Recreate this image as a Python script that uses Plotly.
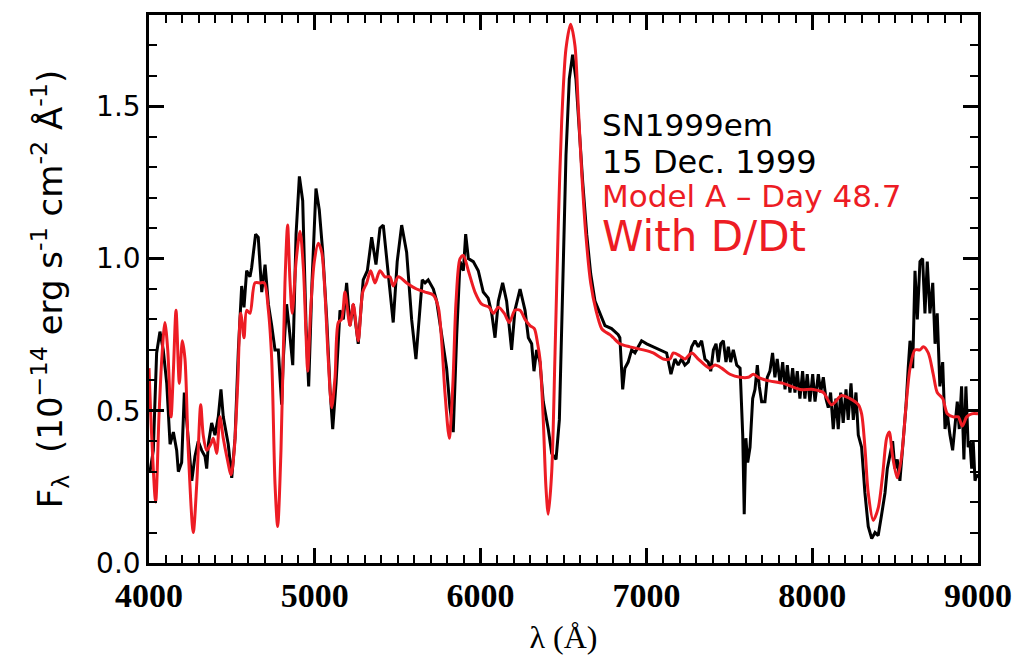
import plotly.graph_objects as go

# Observed spectrum of SN1999em, 15 Dec. 1999 (wavelength in Angstrom, flux in 1e-14 erg/s/cm^2/A)
obs_wave = [4006, 4026, 4046, 4066, 4086, 4107, 4127, 4147, 4167, 4177, 4197, 4213, 4258, 4277,
            4297, 4318, 4338, 4348, 4358, 4378, 4398, 4418, 4434, 4448, 4478, 4499, 4519, 4539,
            4559, 4573, 4589, 4609, 4619, 4643, 4659, 4680, 4700, 4720, 4740, 4760, 4780, 4800,
            4810, 4830, 4846, 4867, 4887, 4907, 4927, 4947, 4963, 4983, 5007, 5027, 5048, 5072,
            5092, 5108, 5128, 5152, 5172, 5192, 5212, 5232, 5262, 5292, 5317, 5343, 5369, 5393,
            5413, 5443, 5473, 5497, 5524, 5554, 5584, 5610, 5624, 5648, 5665, 5684, 5715, 5735,
            5765, 5795, 5815, 5835, 5856, 5876, 5896, 5910, 5926, 5956, 5986, 6016, 6046, 6067,
            6087, 6107, 6133, 6157, 6187, 6207, 6238, 6268, 6288, 6308, 6322, 6338, 6358, 6378,
            6408, 6429, 6455, 6475, 6495, 6515, 6535, 6555, 6575, 6595, 6616, 6640, 6664, 6690,
            6720, 6750, 6790, 6830, 6840, 6857, 6870, 6890, 6911, 6931, 6951, 6971, 7002, 7041,
            7082, 7122, 7148, 7172, 7192, 7212, 7232, 7253, 7273, 7293, 7313, 7333, 7353, 7373,
            7388, 7404, 7420, 7434, 7448, 7464, 7480, 7494, 7508, 7524, 7545, 7565, 7581, 7590,
            7600, 7611, 7625, 7641, 7655, 7669, 7681, 7695, 7715, 7729, 7745, 7761, 7775, 7789,
            7806, 7822, 7836, 7850, 7866, 7882, 7896, 7910, 7926, 7942, 7956, 7970, 7986, 8003,
            8017, 8037, 8051, 8067, 8083, 8097, 8111, 8127, 8143, 8157, 8172, 8187, 8204, 8217,
            8234, 8248, 8264, 8278, 8298, 8318, 8338, 8359, 8379, 8398, 8419, 8439, 8453, 8465,
            8485, 8499, 8513, 8529, 8549, 8565, 8579, 8590, 8606, 8620, 8634, 8650, 8666, 8680,
            8694, 8710, 8727, 8741, 8754, 8770, 8787, 8801, 8815, 8831, 8847, 8861, 8875, 8887,
            8901, 8915, 8927, 8941, 8951, 8962, 8971, 8982, 8992, 9000]
obs_flux = [0.30, 0.37, 0.69, 0.76, 0.70, 0.59, 0.39, 0.43, 0.37, 0.30, 0.33, 0.56, 0.27, 0.35,
            0.40, 0.37, 0.35, 0.31, 0.39, 0.46, 0.42, 0.48, 0.57, 0.48, 0.39, 0.28, 0.41, 0.70,
            0.91, 0.84, 0.96, 0.94, 0.97, 1.08, 1.07, 0.89, 0.98, 0.85, 0.78, 0.70, 0.70, 0.52,
            0.67, 0.85, 0.77, 0.65, 1.08, 1.27, 1.19, 0.78, 0.58, 0.92, 1.23, 1.16, 1.02, 0.80,
            0.57, 0.44, 0.59, 0.83, 0.80, 0.92, 0.78, 0.85, 0.72, 0.93, 0.96, 1.07, 0.98, 1.10,
            1.11, 0.96, 0.79, 0.99, 1.11, 1.02, 0.80, 0.67, 0.77, 0.93, 0.92, 0.93, 0.90, 0.86,
            0.75, 0.64, 0.51, 0.43, 0.75, 0.99, 0.96, 1.08, 1.00, 0.99, 0.96, 0.89, 0.87, 0.82,
            0.74, 0.86, 0.92, 0.86, 0.70, 0.83, 0.90, 0.83, 0.74, 0.72, 0.63, 0.70, 0.66, 0.53,
            0.44, 0.36, 0.34, 0.47, 0.90, 1.34, 1.59, 1.67, 1.59, 1.41, 1.25, 1.08, 0.95, 0.86,
            0.82, 0.78, 0.77, 0.75, 0.74, 0.57, 0.64, 0.66, 0.70, 0.69, 0.71, 0.73, 0.72, 0.71,
            0.70, 0.69, 0.62, 0.67, 0.65, 0.67, 0.65, 0.66, 0.71, 0.73, 0.71, 0.73, 0.67, 0.66,
            0.63, 0.70, 0.72, 0.66, 0.72, 0.73, 0.66, 0.71, 0.66, 0.70, 0.65, 0.64, 0.42, 0.16,
            0.41, 0.33, 0.38, 0.54, 0.57, 0.65, 0.58, 0.53, 0.53, 0.61, 0.63, 0.69, 0.61, 0.67,
            0.59, 0.66, 0.57, 0.65, 0.56, 0.64, 0.56, 0.63, 0.54, 0.63, 0.54, 0.62, 0.53, 0.62,
            0.53, 0.62, 0.56, 0.61, 0.54, 0.51, 0.56, 0.44, 0.54, 0.44, 0.56, 0.46, 0.57, 0.47,
            0.59, 0.47, 0.56, 0.42, 0.38, 0.23, 0.12, 0.08, 0.10, 0.09, 0.16, 0.23, 0.31, 0.34,
            0.40, 0.31, 0.34, 0.27, 0.40, 0.51, 0.64, 0.73, 0.64, 0.96, 0.80, 0.99, 1.00, 0.82,
            0.99, 0.82, 0.92, 0.72, 0.82, 0.58, 0.66, 0.44, 0.49, 0.42, 0.37, 0.44, 0.53, 0.44,
            0.58, 0.34, 0.58, 0.38, 0.40, 0.31, 0.40, 0.27, 0.29, 0.28]

# Model A, day 48.7, with D/Dt terms
model_wave = [4000, 4016, 4040, 4060, 4077, 4096, 4113, 4133, 4147, 4163, 4183, 4201, 4217, 4237,
              4267, 4288, 4312, 4327, 4348, 4372, 4388, 4408, 4428, 4448, 4469, 4495, 4514, 4535,
              4553, 4573, 4589, 4609, 4639, 4669, 4695, 4720, 4740, 4760, 4776, 4796, 4820, 4836,
              4850, 4864, 4887, 4911, 4931, 4947, 4957, 4975, 4997, 5021, 5042, 5061, 5081, 5102,
              5122, 5142, 5162, 5182, 5212, 5232, 5262, 5289, 5313, 5337, 5363, 5393, 5423, 5453,
              5473, 5504, 5554, 5614, 5665, 5715, 5745, 5765, 5785, 5811, 5832, 5852, 5876, 5896,
              5926, 5966, 6007, 6051, 6077, 6107, 6143, 6173, 6207, 6238, 6268, 6298, 6324, 6344,
              6358, 6378, 6394, 6408, 6429, 6449, 6469, 6489, 6515, 6543, 6569, 6589, 6610, 6636,
              6664, 6696, 6730, 6750, 6780, 6800, 6840, 6900, 6981, 7041, 7102, 7142, 7162, 7203,
              7233, 7273, 7313, 7353, 7383, 7414, 7454, 7504, 7565, 7615, 7645, 7675, 7725, 7825,
              7926, 8006, 8067, 8117, 8177, 8228, 8278, 8298, 8318, 8338, 8368, 8398, 8425, 8449,
              8465, 8485, 8513, 8539, 8565, 8590, 8620, 8650, 8670, 8700, 8730, 8754, 8787, 8815,
              8851, 8881, 8905, 8932, 8962, 9000]
model_flux = [0.64, 0.42, 0.20, 0.48, 0.67, 0.79, 0.70, 0.48, 0.63, 0.83, 0.59, 0.73, 0.67, 0.37,
              0.10, 0.26, 0.52, 0.42, 0.37, 0.39, 0.41, 0.36, 0.48, 0.41, 0.35, 0.29, 0.37, 0.59,
              0.82, 0.74, 0.83, 0.82, 0.92, 0.92, 0.92, 0.83, 0.67, 0.26, 0.12, 0.37, 0.92, 1.11,
              0.93, 0.82, 0.99, 1.09, 0.97, 0.75, 0.63, 0.83, 0.99, 1.05, 1.02, 0.89, 0.67, 0.51,
              0.61, 0.79, 0.80, 0.89, 0.78, 0.85, 0.73, 0.89, 0.92, 0.96, 0.92, 0.96, 0.94, 0.94,
              0.91, 0.94, 0.92, 0.90, 0.89, 0.88, 0.84, 0.73, 0.56, 0.41, 0.58, 0.86, 1.00, 1.01,
              0.96, 0.89, 0.85, 0.84, 0.82, 0.84, 0.82, 0.79, 0.83, 0.83, 0.80, 0.78, 0.77, 0.72,
              0.67, 0.47, 0.25, 0.16, 0.30, 0.69, 1.12, 1.45, 1.69, 1.77, 1.70, 1.50, 1.28, 1.07,
              0.92, 0.83, 0.77, 0.76, 0.75, 0.74, 0.72, 0.71, 0.70, 0.69, 0.67, 0.67, 0.69, 0.68,
              0.67, 0.69, 0.67, 0.65, 0.64, 0.65, 0.64, 0.62, 0.61, 0.61, 0.62, 0.61, 0.60, 0.59,
              0.57, 0.57, 0.56, 0.52, 0.55, 0.54, 0.52, 0.49, 0.38, 0.23, 0.14, 0.18, 0.29, 0.41,
              0.43, 0.35, 0.28, 0.35, 0.51, 0.64, 0.70, 0.70, 0.71, 0.69, 0.62, 0.56, 0.54, 0.49,
              0.48, 0.48, 0.45, 0.48, 0.49, 0.49]

x_ticks = [4000, 5000, 6000, 7000, 8000, 9000]
y_ticks = [0.0, 0.5, 1.0, 1.5]
y_tick_labels = ["0.0", "0.5", "1.0", "1.5"]

BLACK = "#000000"
RED = "#ED1C24"

fig = go.Figure()
fig.add_trace(go.Scatter(x=obs_wave, y=obs_flux, mode="lines",
                         line=dict(color=BLACK, width=3), showlegend=False))
fig.add_trace(go.Scatter(x=model_wave, y=model_flux, mode="lines",
                         line=dict(color=RED, width=3, shape="spline", smoothing=0.8),
                         showlegend=False))

label_font = "DejaVu Sans"
notes = [
    ("SN1999em", BLACK, 31, 123),
    ("15 Dec. 1999", BLACK, 32, 160),
    ("Model A \u2013 Day 48.7", RED, 31, 194),
    ("With D/Dt", RED, 42, 235),
]
for text, color, size, ypix in notes:
    fig.add_annotation(text=text, xref="paper", yref="paper",
                       x=(600 - 149) / (978 - 149), y=(563 - ypix) / (563 - 12),
                       xanchor="left", yanchor="middle", showarrow=False,
                       font=dict(family=label_font, size=size, color=color))

axis_common = dict(showline=True, linecolor=BLACK, linewidth=2.5, mirror="allticks",
                   ticks="inside", tickcolor=BLACK, tickwidth=2.5, ticklen=15,
                   showgrid=False, zeroline=False)

fig.update_xaxes(range=[4000, 9000], tickvals=x_ticks,
                 ticktext=[str(v) for v in x_ticks],
                 tickfont=dict(family="Liberation Sans Narrow", size=34, color=BLACK, weight="bold"),
                 minor=dict(dtick=100, ticks="inside", ticklen=8, tickwidth=2, tickcolor=BLACK),
                 title=dict(text="\u03bb (\u00c5)", font=dict(family="Liberation Sans Narrow", size=32, color=BLACK),
                            standoff=14),
                 **axis_common)
fig.update_yaxes(range=[0, 1.8], tickvals=y_ticks, ticktext=y_tick_labels,
                 tickfont=dict(family=label_font, size=28, color=BLACK),
                 minor=dict(dtick=0.1, ticks="inside", ticklen=8, tickwidth=2, tickcolor=BLACK),
                 title=dict(text="F<sub>\u03bb</sub>  (10<sup>\u221214</sup> erg s<sup>-1</sup> cm<sup>-2</sup> \u00c5<sup>-1</sup>)",
                            font=dict(family=label_font, size=34, color=BLACK), standoff=24),
                 **axis_common)

fig.update_layout(width=1025, height=667, margin=dict(l=149, r=47, t=12, b=104),
                  paper_bgcolor="white", plot_bgcolor="white")

fig.write_html("out.html")
